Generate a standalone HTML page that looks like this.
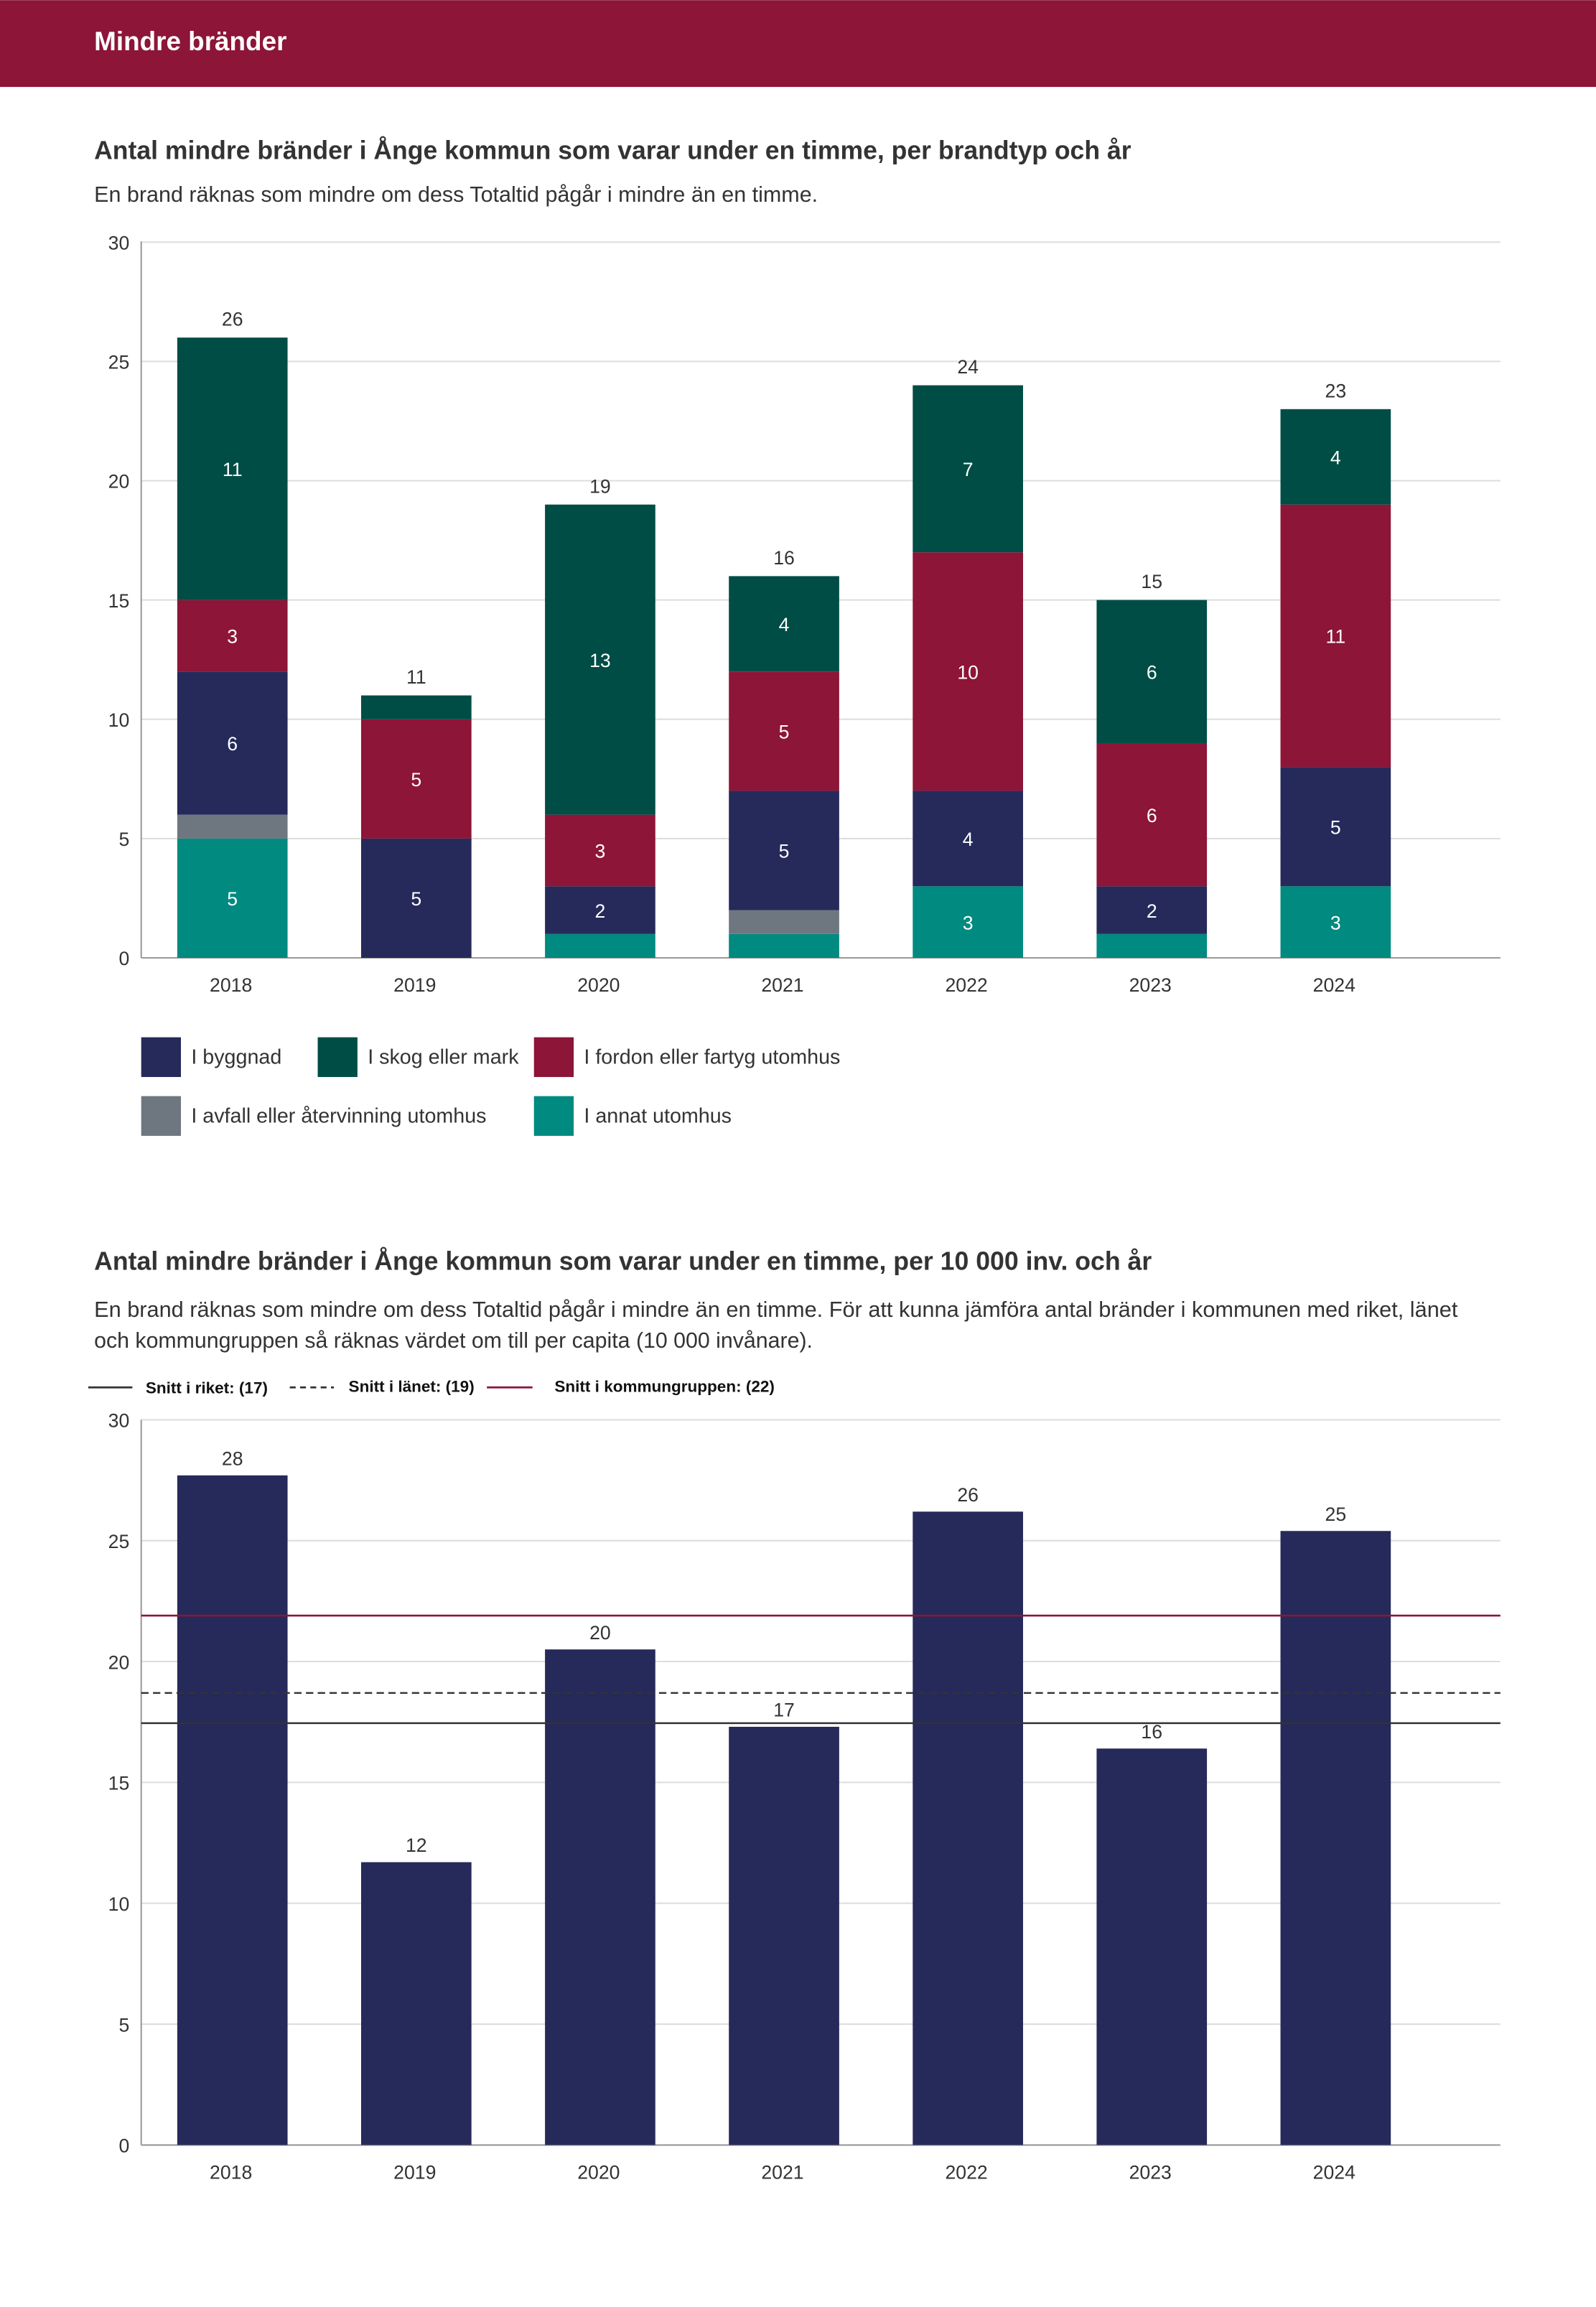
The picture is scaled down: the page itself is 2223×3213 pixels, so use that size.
<!DOCTYPE html>
<html><head><meta charset="utf-8">
<style>
html,body{margin:0;padding:0;background:#fff;}
svg{display:block;font-family:"Liberation Sans",sans-serif;}
</style></head>
<body>
<svg id="svg" width="2223" height="3213" viewBox="0 0 1085 1568" xmlns="http://www.w3.org/2000/svg">
<rect x="0" y="0" width="1085" height="59" fill="#8C1538"/>
<text x="64" y="34" font-size="18" font-weight="bold" fill="#fff">Mindre bränder</text>

<text x="64" y="108" font-size="17.5" font-weight="bold" fill="#333" textLength="705" lengthAdjust="spacingAndGlyphs">Antal mindre bränder i Ånge kommun som varar under en timme, per brandtyp och år</text>
<text x="64" y="137" font-size="14.8" fill="#333" textLength="492" lengthAdjust="spacingAndGlyphs">En brand räknas som mindre om dess Totaltid pågår i mindre än en timme.</text>
<g id="c1"></g>

<g font-size="14" fill="#333">
<rect x="96" y="705" width="27" height="27" fill="#252A5A"/><text x="130" y="723">I byggnad</text>
<rect x="216" y="705" width="27" height="27" fill="#004D45"/><text x="250" y="723">I skog eller mark</text>
<rect x="363" y="705" width="27" height="27" fill="#8C1538"/><text x="397" y="723">I fordon eller fartyg utomhus</text>
<rect x="96" y="745" width="27" height="27" fill="#6E7680"/><text x="130" y="763">I avfall eller återvinning utomhus</text>
<rect x="363" y="745" width="27" height="27" fill="#008A80"/><text x="397" y="763">I annat utomhus</text>
</g>

<text x="64" y="863" font-size="17.5" font-weight="bold" fill="#333" textLength="719" lengthAdjust="spacingAndGlyphs">Antal mindre bränder i Ånge kommun som varar under en timme, per 10 000 inv. och år</text>
<text x="64" y="895" font-size="14.8" fill="#333" textLength="927" lengthAdjust="spacingAndGlyphs">En brand räknas som mindre om dess Totaltid pågår i mindre än en timme. För att kunna jämföra antal bränder i kommunen med riket, länet</text>
<text x="64" y="916" font-size="14.8" fill="#333">och kommungruppen så räknas värdet om till per capita (10 000 invånare).</text>
<g font-size="11" font-weight="bold" fill="#111">
<line x1="60" y1="943" x2="90" y2="943" stroke="#333" stroke-width="1.3"/><text x="99" y="947">Snitt i riket: (17)</text>
<line x1="197" y1="943" x2="227" y2="943" stroke="#333" stroke-width="1.3" stroke-dasharray="4,3"/><text x="237" y="946">Snitt i länet: (19)</text>
<line x1="331" y1="943" x2="362" y2="943" stroke="#8C1538" stroke-width="1.3"/><text x="377" y="946">Snitt i kommungruppen: (22)</text>
</g>
<g id="c2"></g>
</svg>
<script>
const years = ["2018","2019","2020","2021","2022","2023","2024"];
const annat  = [5,0,1,1,3,1,3];
const avfall = [1,0,0,1,0,0,0];
const byggnad= [6,5,2,5,4,2,5];
const fordon = [3,5,3,5,10,6,11];
const skog   = [11,1,13,4,7,6,4];
const yTicks1 = [0,5,10,15,20,25,30];

const perCapita = [27.7,11.7,20.5,17.3,26.2,16.4,25.4];
const perCapitaLabels = ["28","12","20","17","26","16","25"];
const yTicks2 = [0,5,10,15,20,25,30];
const riket = 17.45;
const lanet = 18.7;
const kommungrupp = 21.9;

const NS="http://www.w3.org/2000/svg";
function mk(tag,attrs,parent){const e=document.createElementNS(NS,tag);for(const k in attrs)e.setAttribute(k,attrs[k]);parent.appendChild(e);return e;}
const xC = i => 158 + i*125;
const BW = 75;

// chart 1
const c1=document.getElementById('c1');
const y1 = v => 651 - v*(651-164.5)/30;
yTicks1.forEach(t=>{
  const l=mk('line',{x1:96,x2:1020,y1:y1(t),y2:y1(t),stroke:t===0?'#999':'#ddd','stroke-width':1},c1);
  
  
  const tx=mk('text',{x:88,y:y1(t)+5,'text-anchor':'end','font-size':13,fill:'#333'},c1);
  tx.textContent=t;
  
  
});
const ax=mk('line',{x1:96,x2:96,y1:164,y2:651,stroke:'#999'},c1);


const series=[[annat,'#008A80','annat'],[avfall,'#6E7680','avfall'],[byggnad,'#252A5A','byggnad'],[fordon,'#8C1538','fordon'],[skog,'#004D45','skog']];
years.forEach((yr,i)=>{
  let base=0;
  series.forEach(([arr,col,nm])=>{
    const v=arr[i]; if(!v) return;
    const r=mk('rect',{x:xC(i)-BW/2,y:y1(base+v),width:BW,height:y1(base)-y1(base+v),fill:col},c1);
    
    
    if(v>=2){
      const t=mk('text',{x:xC(i),y:(y1(base)+y1(base+v))/2+5,'text-anchor':'middle','font-size':13,fill:'#fff'},c1);
      t.textContent=v;
      
      
    }
    base+=v;
  });
  const tot=mk('text',{x:xC(i),y:y1(base)-8,'text-anchor':'middle','font-size':13,fill:'#333'},c1);
  tot.textContent=base;
  
  
  const xl=mk('text',{x:xC(i)-1,y:674,'text-anchor':'middle','font-size':13,fill:'#333'},c1);
  xl.textContent=yr;
  
  
});

// chart 2
const c2=document.getElementById('c2');
const y2 = v => 1458 - v*(1458-965)/30;
yTicks2.forEach(t=>{
  const l=mk('line',{x1:96,x2:1020,y1:y2(t),y2:y2(t),stroke:t===0?'#999':'#ddd','stroke-width':1},c2);
  
  
  const tx=mk('text',{x:88,y:y2(t)+5,'text-anchor':'end','font-size':13,fill:'#333'},c2);
  tx.textContent=t;
  
  
});
const ax2=mk('line',{x1:96,x2:96,y1:965,y2:1458,stroke:'#999'},c2);


years.forEach((yr,i)=>{
  const v=perCapita[i];
  const r=mk('rect',{x:xC(i)-BW/2,y:y2(v),width:BW,height:y2(0)-y2(v),fill:'#252A5A'},c2);
  
  
  const t=mk('text',{x:xC(i),y:y2(v)-7,'text-anchor':'middle','font-size':13,fill:'#333'},c2);
  t.textContent=perCapitaLabels[i];
  
  
  const xl=mk('text',{x:xC(i)-1,y:1481,'text-anchor':'middle','font-size':13,fill:'#333'},c2);
  xl.textContent=yr;
  
  
});
const rl=mk('line',{x1:96,x2:1020,y1:y2(kommungrupp),y2:y2(kommungrupp),stroke:'#8C1538','stroke-width':1.3},c2);


const dl=mk('line',{x1:96,x2:1020,y1:y2(lanet),y2:y2(lanet),stroke:'#333','stroke-width':1.2,'stroke-dasharray':'5,3'},c2);


const sl=mk('line',{x1:96,x2:1020,y1:y2(riket),y2:y2(riket),stroke:'#333','stroke-width':1.2},c2);


</script>
</body></html>
